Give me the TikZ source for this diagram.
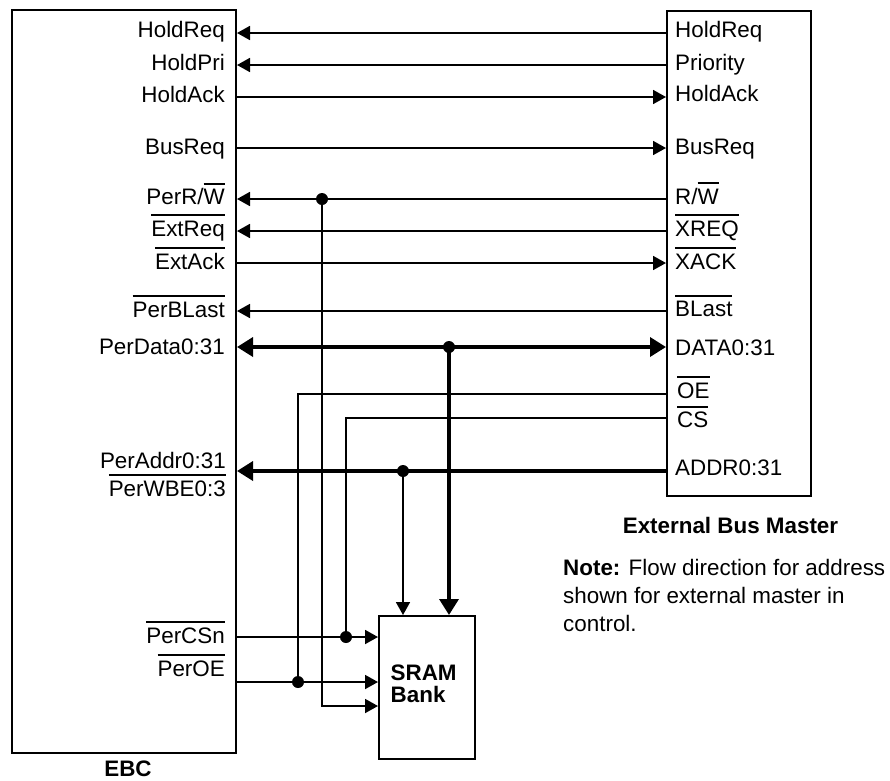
\documentclass[tikz,border=0pt]{standalone}
\usepackage{fontspec}
\setmainfont{Liberation Sans}
\usetikzlibrary{arrows.meta}
\newsavebox\ovlbox
\newcommand\ovl[1]{\leavevmode\sbox\ovlbox{#1}\rlap{\raisebox{20pt}{\rule{\wd\ovlbox}{2pt}}}\usebox\ovlbox}
\begin{document}
\begin{tikzpicture}[x=1pt,y=-1pt,
  font=\fontsize{22.4}{27}\selectfont,
  box/.style={draw,line width=2pt,inner sep=0pt,rectangle,anchor=north west},
  sig/.style={line width=1.8pt},
  bus/.style={line width=3.5pt},
  ar/.style={-{Triangle[length=13pt,width=14pt]}},
  barr/.style={-{Triangle[length=16pt,width=19pt]}},
  bboth/.style={{Triangle[length=16pt,width=19pt]}-{Triangle[length=16pt,width=19pt]}},
  lblL/.style={anchor=base east,inner sep=0pt},
  lblR/.style={anchor=base west,inner sep=0pt},
  ttl/.style={inner sep=0pt,font=\fontsize{22.4}{27}\selectfont\bfseries}]
\useasboundingbox (0,0) rectangle (890,780);
% boxes
\node[box,minimum width=224pt,minimum height=743pt] (ebc) at (11,9) {};
\node[box,minimum width=144pt,minimum height=485pt] (ebm) at (666,10) {};
\node[box,minimum width=96pt,minimum height=143pt] (sram) at (378,615) {};
% titles
\node[ttl,anchor=base] (ebct) at (128,776.5) {EBC};
\node[ttl,anchor=base] (ebmt) at (730.5,533.3) {External Bus Master};
\node[ttl,anchor=base west] (sramt1) at (390.5,680) {SRAM};
\node[ttl,anchor=base west] (sramt2) at (390.5,702.7) {Bank};
\node[inner sep=0pt,anchor=base west] (note1) at (563,575) {\textbf{Note:} Flow direction for address};
\node[inner sep=0pt,anchor=base west] (note2) at (563,603.3) {shown for external master in};
\node[inner sep=0pt,anchor=base west] (note3) at (563,631.7) {control.};
% EBC labels
\node[lblL] (tl1) at (225,37.5) {HoldReq};
\node[lblL] (tl2) at (225,70.5) {HoldPri};
\node[lblL] (tl3) at (225,102.5) {HoldAck};
\node[lblL] (tl4) at (225,154) {BusReq};
\node[lblL] (tl5) at (225,204.5) {PerR/\ovl{W}};
\node[lblL] (tl6) at (225,236) {\ovl{ExtReq}};
\node[lblL] (tl7) at (225,269.3) {\ovl{ExtAck}};
\node[lblL] (tl8) at (225,317) {\ovl{PerBLast}};
\node[lblL] (tl9) at (225,354) {PerData0:31};
\node[lblL] (tl10) at (226,468) {PerAddr0:31};
\node[lblL] (tl11) at (226,496) {\ovl{PerWBE0:3}};
\node[lblL] (tl12) at (225,643) {\ovl{PerCSn}};
\node[lblL] (tl13) at (225,676) {\ovl{PerOE}};
% EBM labels
\node[lblR] (tr1) at (675,37.5) {HoldReq};
\node[lblR] (tr2) at (675,70) {Priority};
\node[lblR] (tr3) at (675,101.5) {HoldAck};
\node[lblR] (tr4) at (675,154) {BusReq};
\node[lblR] (tr5) at (675,204) {R/\ovl{W}};
\node[lblR] (tr6) at (675,236) {\ovl{XREQ}};
\node[lblR] (tr7) at (675,269) {\ovl{XACK}};
\node[lblR] (tr8) at (675,316.5) {\ovl{BLast}};
\node[lblR] (tr9) at (675,355) {DATA0:31};
\node[lblR] (tr10) at (677,398) {\ovl{OE}};
\node[lblR] (tr11) at (677,427.5) {\ovl{CS}};
\node[lblR] (tr12) at (675,475) {ADDR0:31};
% pins
\coordinate (LHoldReq) at (ebc.east |- 0,33);
\coordinate (RHoldReq) at (ebm.west |- 0,33);
\coordinate (LHoldPri) at (ebc.east |- 0,65);
\coordinate (RHoldPri) at (ebm.west |- 0,65);
\coordinate (LHoldAck) at (ebc.east |- 0,97);
\coordinate (RHoldAck) at (ebm.west |- 0,97);
\coordinate (LBusReq) at (ebc.east |- 0,148);
\coordinate (RBusReq) at (ebm.west |- 0,148);
\coordinate (LRW) at (ebc.east |- 0,199);
\coordinate (RRW) at (ebm.west |- 0,199);
\coordinate (LExtReq) at (ebc.east |- 0,231);
\coordinate (RExtReq) at (ebm.west |- 0,231);
\coordinate (LExtAck) at (ebc.east |- 0,263);
\coordinate (RExtAck) at (ebm.west |- 0,263);
\coordinate (LBLast) at (ebc.east |- 0,311);
\coordinate (RBLast) at (ebm.west |- 0,311);
\coordinate (LData) at (ebc.east |- 0,347);
\coordinate (RData) at (ebm.west |- 0,347);
\coordinate (ROE) at (ebm.west |- 0,394);
\coordinate (RCS) at (ebm.west |- 0,418);
\coordinate (LAddr) at (ebc.east |- 0,471);
\coordinate (RAddr) at (ebm.west |- 0,471);
\coordinate (LCSn) at (ebc.east |- 0,637);
\coordinate (LOE) at (ebc.east |- 0,682);
\coordinate (SCSn) at (sram.west |- 0,637);
\coordinate (SOE) at (sram.west |- 0,682);
\coordinate (SRW) at (sram.west |- 0,706);
\coordinate (SAddr) at (sram.north -| 403,0);
\coordinate (SData) at (sram.north -| 449,0);
% junctions
\coordinate (jRW) at (322,199);
\coordinate (jData) at (449,347);
\coordinate (jAddr) at (403,471);
\coordinate (jCS) at (346,637);
\coordinate (jOE) at (298,682);
% connectors
\draw[sig,ar] (RHoldReq) -- (LHoldReq);
\draw[sig,ar] (RHoldPri) -- (LHoldPri);
\draw[sig,ar] (LHoldAck) -- (RHoldAck);
\draw[sig,ar] (LBusReq) -- (RBusReq);
\draw[sig,ar] (RRW) -- (LRW);
\draw[sig,ar] (RExtReq) -- (LExtReq);
\draw[sig,ar] (LExtAck) -- (RExtAck);
\draw[sig,ar] (RBLast) -- (LBLast);
\draw[bus,bboth] (LData) -- (RData);
\draw[bus,barr] (RAddr) -- (LAddr);
\draw[sig] (ROE) -| (jOE);
\draw[sig] (RCS) -| (jCS);
\draw[sig,ar] (LCSn) -- (SCSn);
\draw[sig,ar] (LOE) -- (SOE);
\draw[sig,ar] (jRW) |- (SRW);
\draw[sig,ar] (jAddr) -- (SAddr);
\draw[bus,barr] (jData) -- (SData);
% dots
\foreach \j in {jRW,jData,jAddr,jCS,jOE} \fill (\j) circle (6pt);
\end{tikzpicture}
\end{document}
